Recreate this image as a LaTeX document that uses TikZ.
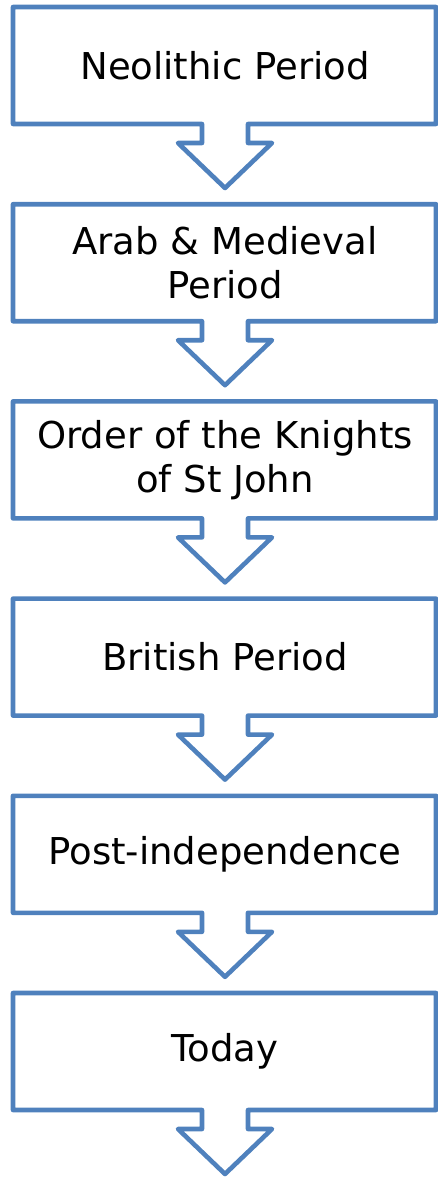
\documentclass[tikz,border=0pt]{standalone}
\usepackage{fontspec}
\setmainfont{DejaVu Sans}
\definecolor{boxblue}{HTML}{4F81BD}
\tikzset{
  periodbox/.style={draw=boxblue, line width=4.6pt, line join=round},
  periodtext/.style={align=center, font=\fontsize{37}{44}\selectfont, text=black, inner sep=0pt}
}
\begin{document}
\begin{tikzpicture}[x=1pt,y=-1pt]
        \useasboundingbox (0,0) rectangle (438,1177);
         % Riquadri con freccia verso il basso
        \foreach \name/\txt [count=\i from 0] in {neolithic/Neolithic Period, arab/{Arab \& Medieval\\Period}, knights/{Order of the Knights\\of St John}, british/British Period, postind/Post-independence, today/Today} {
            \pgfmathsetmacro\ytop{7+197.2*\i}
            \draw[periodbox] (13,\ytop) -- (436,\ytop) -- (436,\ytop+117) -- (248,\ytop+117) -- (248,\ytop+136) -- (272,\ytop+136) -- (225,\ytop+181) -- (178,\ytop+136) -- (202,\ytop+136) -- (202,\ytop+117) -- (13,\ytop+117) -- cycle;
            \node[periodtext] (\name) at (225,\ytop+58.5) {\txt};
        }
\end{tikzpicture}
\end{document}
